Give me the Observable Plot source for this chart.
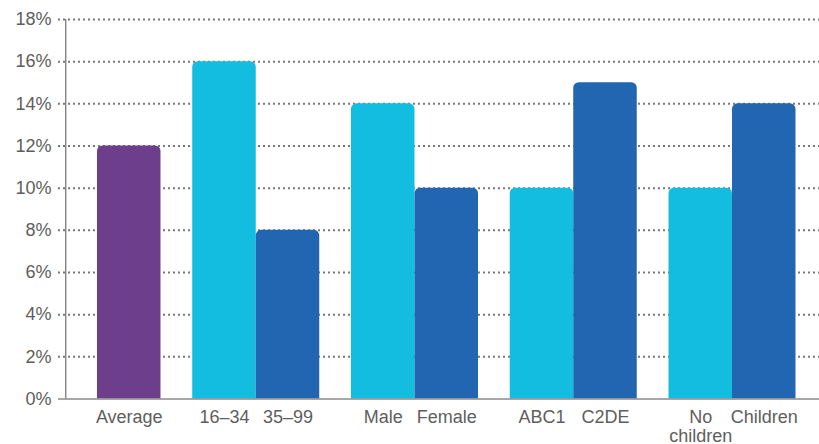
<!DOCTYPE html>
<html>
<head>
<meta charset="utf-8">
<script src="https://cdn.jsdelivr.net/npm/d3@7"></script>
<script src="https://cdn.jsdelivr.net/npm/@observablehq/plot@0.6"></script>
<style>
  html, body { margin: 0; padding: 0; background: #fff; }
  #chart svg { display: block; }
</style>
</head>
<body>
<div id="chart"></div>
<script>
// Share of respondents by demographic group
const categories = ["Average", "16–34", "35–99", "Male", "Female", "ABC1", "C2DE", "No children", "Children"];
const groups     = ["Average", "Age", "Age", "Gender", "Gender", "Social grade", "Social grade", "Household", "Household"];
const values     = [12, 16, 8, 14, 10, 10, 15, 10, 14];
const yTicks     = [0, 2, 4, 6, 8, 10, 12, 14, 16, 18];

const palette = {average: "#6d3e8c", first: "#12bde0", second: "#2266b1"};
const fontFamily = "'Liberation Sans', Arial, Helvetica, sans-serif";
const textColor = "#5e5e5e";

// Bars are one unit wide; consecutive groups are separated by half a unit.
const groupGap = 0.5;
let cursor = 0;
const rows = categories.map((label, i) => {
  const newGroup = i === 0 || groups[i] !== groups[i - 1];
  if (newGroup) cursor += groupGap;
  const indexInGroup = newGroup ? 0 : 1;
  const single = groups.filter(g => g === groups[i]).length === 1;
  const row = {
    label,
    group: groups[i],
    value: values[i],
    x1: cursor,
    x2: cursor + 1,
    tone: single ? "average" : (indexInGroup === 0 ? "first" : "second")
  };
  cursor += 1;
  return row;
});

const chart = Plot.plot({
  width: 819,
  height: 444,
  marginLeft: 58,
  marginRight: 0,
  marginTop: 19,
  marginBottom: 45.5,
  style: {fontFamily, fontSize: "18px", color: textColor, background: "#fff"},
  x: {domain: [-0.114, cursor + 0.37], axis: null},
  y: {domain: [0, 18], axis: null},
  color: {domain: Object.keys(palette), range: Object.values(palette)},
  marks: [
    // dotted horizontal gridlines
    Plot.ruleY(yTicks.filter(d => d > 0), {
      stroke: "#787878",
      strokeWidth: 2,
      strokeDasharray: "2 3",
      strokeOpacity: 1
    }),
    // bars: every corner rounded, the bottom ones pushed below the frame and clipped
    Plot.rectY(rows, {
      x1: "x1",
      x2: "x2",
      y1: 0,
      y2: "value",
      fill: "tone",
      rx: 5.5,
      insetBottom: -12,
      clip: true
    }),
    // baseline and vertical axis line
    Plot.ruleY([0], {stroke: "#8a8a8a", strokeWidth: 1.5}),
    Plot.ruleX([0], {y1: 0, y2: 18, stroke: "#7a7a7a", strokeWidth: 1.3}),
    // y tick labels
    Plot.text(yTicks, {
      x: -0.114,
      y: d => d,
      text: d => `${d}%`,
      textAnchor: "end",
      dx: -7,
      fill: textColor,
      fontSize: 18
    }),
    // category labels beneath each bar
    Plot.text(rows, {
      x: d => (d.x1 + d.x2) / 2,
      y: 0,
      text: "label",
      lineAnchor: "top",
      dy: 10,
      lineWidth: 4.4,
      lineHeight: 1.08,
      fill: textColor,
      fontSize: 18
    })
  ]
});

document.getElementById("chart").append(chart);
</script>
</body>
</html>
